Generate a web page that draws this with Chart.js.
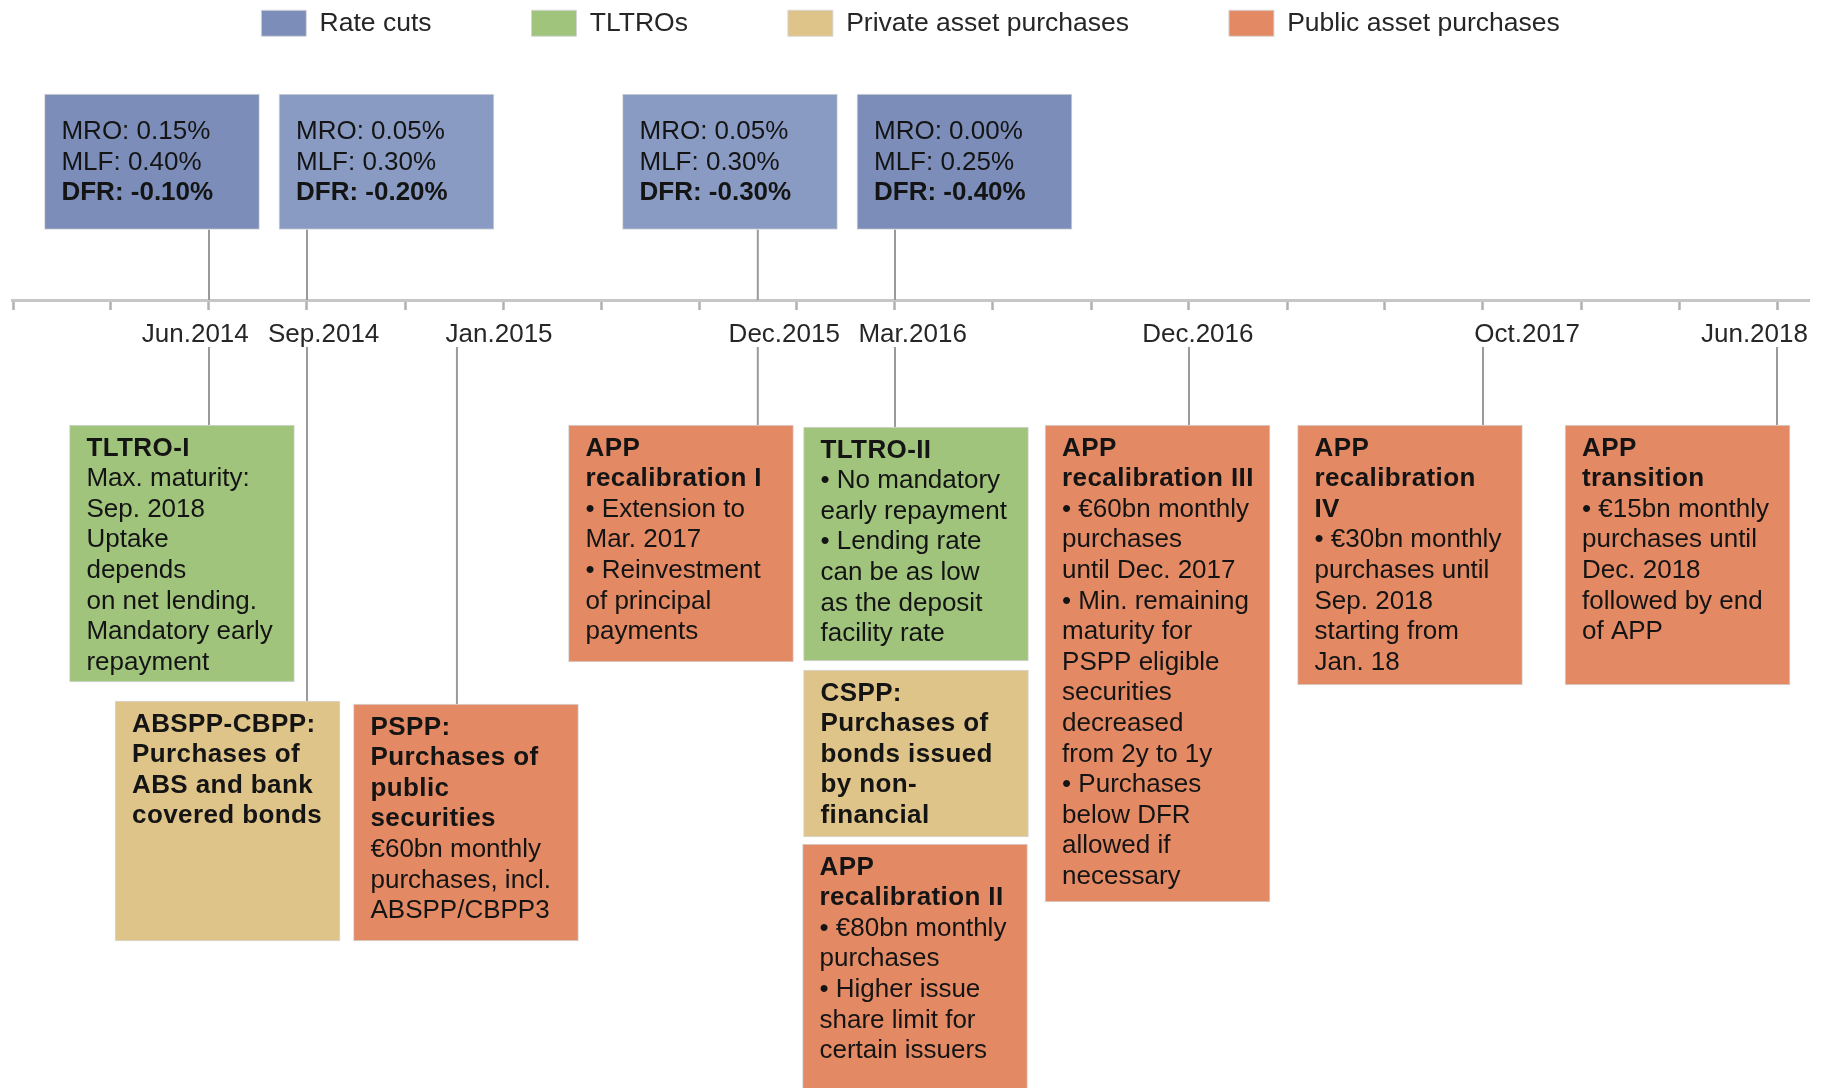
<!DOCTYPE html>
<html>
<head>
<meta charset="utf-8">
<script src="https://cdn.jsdelivr.net/npm/chart.js@4.4.1/dist/chart.umd.min.js"></script>
<style>html,body{margin:0;padding:0;background:#ffffff;}canvas{display:block;}</style>
</head>
<body>
<canvas id="c" width="1845" height="1088"></canvas>
<script>
// ---------------- DATA ----------------
const categories = ['Rate cuts', 'TLTROs', 'Private asset purchases', 'Public asset purchases'];

// Dates on the (schematic) timeline and their place on it, in timeline steps
const eventDates = ['Jun.2014', 'Sep.2014', 'Jan.2015', 'Dec.2015', 'Mar.2016', 'Dec.2016', 'Oct.2017', 'Jun.2018'];
const eventPos   = [2.0, 3.0, 4.53, 7.6, 9.0, 12.0, 15.0, 18.0];
const dateLabelPos = [1.86, 3.17, 4.96, 7.87, 9.18, 12.09, 15.45, 17.77];
const timelineTicks = [0, 1, 2, 3, 4, 5, 6, 7, 8, 9, 10, 11, 12, 13, 14, 15, 16, 17, 18];

// Rate cuts
const rateDates = ['Jun.2014', 'Sep.2014', 'Dec.2015', 'Mar.2016'];
const mroRates = ['0.15%', '0.05%', '0.05%', '0.00%'];
const mlfRates = ['0.40%', '0.30%', '0.30%', '0.25%'];
const dfrRates = ['-0.10%', '-0.20%', '-0.30%', '-0.40%'];

// Non-standard measures
const measureDates = ['Jun.2014', 'Sep.2014', 'Jan.2015', 'Dec.2015', 'Mar.2016', 'Mar.2016', 'Mar.2016', 'Dec.2016', 'Oct.2017', 'Jun.2018'];
const measureCategory = ['TLTROs', 'Private asset purchases', 'Public asset purchases', 'Public asset purchases', 'TLTROs',
  'Private asset purchases', 'Public asset purchases', 'Public asset purchases', 'Public asset purchases', 'Public asset purchases'];
const measureTitles = [
  ['TLTRO-I'],
  ['ABSPP-CBPP:', 'Purchases of', 'ABS and bank', 'covered bonds'],
  ['PSPP:', 'Purchases of', 'public', 'securities'],
  ['APP', 'recalibration I'],
  ['TLTRO-II'],
  ['CSPP:', 'Purchases of', 'bonds issued', 'by non-', 'financial'],
  ['APP', 'recalibration II'],
  ['APP', 'recalibration III'],
  ['APP', 'recalibration', 'IV'],
  ['APP', 'transition']
];
const measureBodies = [
  ['Max. maturity:', 'Sep. 2018', 'Uptake', 'depends', 'on net lending.', 'Mandatory early', 'repayment'],
  [],
  ['€60bn monthly', 'purchases, incl.', 'ABSPP/CBPP3'],
  ['• Extension to', 'Mar. 2017', '• Reinvestment', 'of principal', 'payments'],
  ['• No mandatory', 'early repayment', '• Lending rate', 'can be as low', 'as the deposit', 'facility rate'],
  [],
  ['• €80bn monthly', 'purchases', '• Higher issue', 'share limit for', 'certain issuers'],
  ['• €60bn monthly', 'purchases', 'until Dec. 2017', '• Min. remaining', 'maturity for', 'PSPP eligible', 'securities',
   'decreased', 'from 2y to 1y', '• Purchases', 'below DFR', 'allowed if', 'necessary'],
  ['• €30bn monthly', 'purchases until', 'Sep. 2018', 'starting from', 'Jan. 18'],
  ['• €15bn monthly', 'purchases until', 'Dec. 2018', 'followed by end', 'of APP']
];

// ---------------- LAYOUT (diagram placement, not data) ----------------
const PAD_LEFT = 12, PAD_RIGHT = 36;
const X_MIN = -1 / 98, X_MAX = (1845 - PAD_RIGHT - 13) / 98;   // timeline steps visible
const Y_TOP = 45.5, Y_BOTTOM = 1088;                            // vertical layout units
const AXIS_Y = 300, BELOW_START = 347;
const rateBoxX = [1.418, 3.811, 7.316, 9.709];
const rateBoxTop = 94, rateBoxBottom = 229.5;
const measureX = [1.724, 2.189, 4.622, 6.816, 9.214, 9.214, 9.204, 11.679, 14.255, 16.985];
const measureTop = [425, 701, 704, 425, 427, 670, 844, 425, 425, 425];
const measureBottom = [682, 941, 941, 662, 661, 837, 1100, 902, 685, 685];

// ---------------- STYLE ----------------
const FONT = "'Liberation Sans', Arial, sans-serif";
const catColors = {
  'Rate cuts': '#899ac3',
  'TLTROs': '#a0c47c',
  'Private asset purchases': '#dfc489',
  'Public asset purchases': '#e38a65'
};
const rateColors = ['#7b8db8', '#8a9bc3', '#8a9bc3', '#7b8db8'];
const TEXT = '#141414';

// ---------------- BUILD DATASETS ----------------
const rateData = rateBoxX.map((x, i) => ({x: x, y: [rateBoxTop, rateBoxBottom], k: i}));

function measureData(cat) {
  const out = [];
  measureCategory.forEach((c, i) => {
    if (c === cat) out.push({x: measureX[i], y: [measureTop[i], measureBottom[i]], k: i});
  });
  return out;
}

const aboveLinks = [];
rateDates.forEach((d) => {
  const p = eventPos[eventDates.indexOf(d)];
  aboveLinks.push({x: p, y: rateBoxBottom}, {x: p, y: AXIS_Y}, {x: p, y: null});
});
const belowLinks = [];
eventDates.forEach((d, di) => {
  let top = null;
  measureDates.forEach((md, i) => { if (md === d && (top === null || measureTop[i] < top)) top = measureTop[i]; });
  if (top !== null) belowLinks.push({x: eventPos[di], y: BELOW_START}, {x: eventPos[di], y: top}, {x: eventPos[di], y: null});
});

const boxBorder = 'rgba(214,214,214,0.95)';
const datasets = [
  {
    type: 'bar', label: categories[0], kind: 'rate', data: rateData, barThickness: 215,
    backgroundColor: c => (c.dataIndex === undefined ? catColors['Rate cuts'] : rateColors[c.dataIndex]),
    borderColor: boxBorder, borderWidth: 1, borderSkipped: false, order: 0
  }
];
categories.slice(1).forEach(cat => {
  datasets.push({
    type: 'bar', label: cat, kind: 'measure', data: measureData(cat), barThickness: 225,
    backgroundColor: catColors[cat], borderColor: boxBorder, borderWidth: 1, borderSkipped: false, order: 0
  });
});
datasets.push({
  type: 'line', label: 'links-above', data: aboveLinks, borderColor: '#9a9a9a', borderWidth: 2,
  pointRadius: 0, spanGaps: false, fill: false, order: 5
});
datasets.push({
  type: 'line', label: 'links-below', data: belowLinks, borderColor: '#9a9a9a', borderWidth: 2,
  pointRadius: 0, spanGaps: false, fill: false, order: 5
});

// ---------------- TEXT IN BOXES ----------------
const boxTextPlugin = {
  id: 'boxText',
  afterDatasetsDraw(chart) {
    const ctx = chart.ctx;
    ctx.save();
    ctx.textAlign = 'left';
    ctx.textBaseline = 'middle';
    ctx.fillStyle = TEXT;
    chart.data.datasets.forEach((ds, di) => {
      if (ds.type !== 'bar') return;
      const meta = chart.getDatasetMeta(di);
      meta.data.forEach((el, j) => {
        const p = el.getProps(['x', 'y', 'base', 'width'], true);
        const left = p.x - p.width / 2;
        const top = Math.min(p.y, p.base);
        const k = ds.data[j].k;
        if (ds.kind === 'rate') {
          const tx = left + 17, lh = 30.6;
          ctx.letterSpacing = '0px';
          ctx.font = '26px ' + FONT;
          ctx.fillText('MRO: ' + mroRates[k], tx, top + 38);
          ctx.fillText('MLF: ' + mlfRates[k], tx, top + 38 + lh);
          ctx.font = 'bold 26px ' + FONT;
          ctx.fillText('DFR: ' + dfrRates[k], tx, top + 38 + 2 * lh);
        } else {
          const tx = left + 17, lh = 30.6;
          let ty = top + 23.5;
          ctx.font = 'bold 26px ' + FONT;
          ctx.letterSpacing = '0.4px';
          measureTitles[k].forEach(t => { ctx.fillText(t, tx, ty); ty += lh; });
          ctx.letterSpacing = '0px';
          ctx.font = '26px ' + FONT;
          measureBodies[k].forEach(t => { ctx.fillText(t, tx, ty); ty += lh; });
        }
      });
    });
    ctx.restore();
  }
};

// ---------------- CHART ----------------
const LEGEND_PAD = 100;
new Chart(document.getElementById('c'), {
  type: 'bar',
  data: {datasets: datasets},
  options: {
    responsive: false,
    animation: false,
    events: [],
    devicePixelRatio: 1,
    layout: {padding: {top: 10 - LEGEND_PAD, left: PAD_LEFT, right: PAD_RIGHT, bottom: 0}},
    datasets: {bar: {grouped: false}},
    plugins: {
      tooltip: {enabled: false},
      legend: {
        display: true,
        position: 'top',
        align: 'center',
        labels: {
          boxWidth: 45, boxHeight: 26, padding: LEGEND_PAD,
          font: {family: FONT, size: 26.5},
          color: '#262626',
          filter: item => item.datasetIndex < 4
        }
      }
    },
    scales: {
      x: {
        type: 'linear', axis: 'x', min: X_MIN, max: X_MAX, offset: false,
        position: {y: AXIS_Y},
        afterBuildTicks: s => { s.ticks = timelineTicks.map(v => ({value: v})); },
        ticks: {display: false},
        grid: {display: true, offset: false, drawOnChartArea: false, drawTicks: true,
               tickLength: 8, tickWidth: 2.5, tickColor: '#b0b0b0'},
        border: {display: true, color: '#c6c6c6', width: 3}
      },
      xl: {
        type: 'linear', axis: 'x', min: X_MIN, max: X_MAX, offset: false,
        position: {y: AXIS_Y},
        afterBuildTicks: s => { s.ticks = dateLabelPos.map(v => ({value: v})); },
        ticks: {
          autoSkip: false, maxRotation: 0, minRotation: 0, padding: 19.5,
          font: {family: FONT, size: 26}, color: '#262626',
          callback: (v, i) => eventDates[i]
        },
        grid: {display: false, drawTicks: false, offset: false},
        border: {display: false}
      },
      y: {
        type: 'linear', min: Y_TOP + 1, max: Y_BOTTOM, reverse: true, display: false
      }
    }
  },
  plugins: [boxTextPlugin]
});
</script>
</body>
</html>
